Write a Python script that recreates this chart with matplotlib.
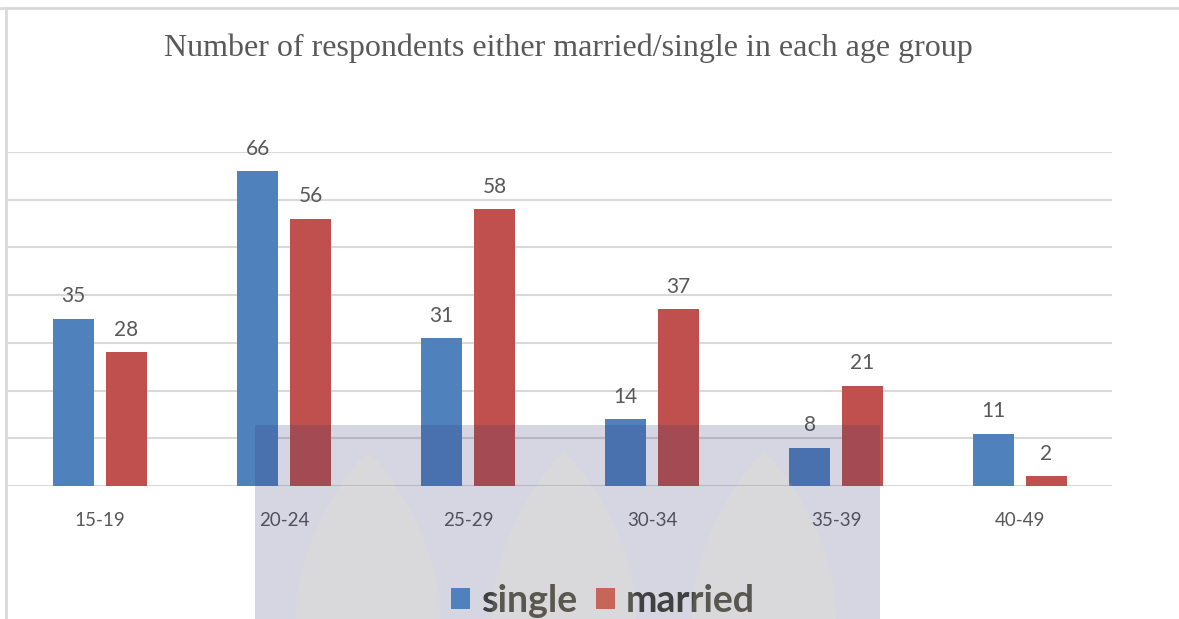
import numpy as np
import matplotlib
matplotlib.use("Agg")
import matplotlib.pyplot as plt
from matplotlib.patches import Rectangle, Polygon

# data
age_groups = ["15-19", "20-24", "25-29", "30-34", "35-39", "40-49"]
single = [35, 66, 31, 14, 8, 11]
married = [28, 56, 58, 37, 21, 2]

blue = "#4F81BD"
red = "#C0504D"
grid_grey = "#D9D9D9"
text_grey = "#595959"

W, H = 1179, 619
fig = plt.figure(figsize=(W / 100, H / 100), dpi=100)
ax = fig.add_axes([8 / W, 1 - 486 / H, 1104 / W, 334 / H])

x = np.arange(len(age_groups))
width = 0.223
offset = 0.144

bars_s = ax.bar(x - offset, single, width, color=blue, label="single", zorder=2)
bars_m = ax.bar(x + offset, married, width, color=red, label="married", zorder=2)

for bars in (bars_s, bars_m):
    for b in bars:
        ax.annotate(f"{b.get_height():.0f}", (b.get_x() + b.get_width() / 2, b.get_height()),
                    xytext=(0, 9), textcoords="offset points", ha="center", va="bottom",
                    fontsize=15, color=text_grey, family="Lato", annotation_clip=False)

ax.set_xlim(-0.5, len(age_groups) - 0.5)
ax.set_ylim(0, 70)
ax.set_yticks(np.arange(0, 71, 10))
ax.yaxis.grid(True, color=grid_grey, linewidth=1.5, zorder=0)
ax.tick_params(axis="y", left=False, labelleft=False)
ax.tick_params(axis="x", length=0, pad=19, labelsize=13.5, labelcolor=text_grey)
ax.set_xticks(x)
ax.set_xticklabels(age_groups, family="Lato")
for s in ax.spines.values():
    s.set_visible(False)
ax.set_axisbelow(True)

fig.text(568 / W, 1 - 48 / H, "Number of respondents either married/single in each age group",
         ha="center", va="center", fontsize=23, color=text_grey, family="Liberation Serif")

leg = fig.legend(handles=[bars_s, bars_m], labels=["single", "married"],
                 loc="center", bbox_to_anchor=(603 / W, 1 - 601 / H), ncol=2, frameon=False,
                 prop={"family": "Lato", "weight": "bold", "size": 27},
                 handlelength=0.5, handleheight=0.5, handletextpad=0.3, columnspacing=0.5)
for t in leg.get_texts():
    t.set_color("#404040")

# chart frame lines (top and left)
fig.add_artist(plt.Line2D([0, 1], [1 - 8 / H] * 2, color=grid_grey, linewidth=2, transform=fig.transFigure))
fig.add_artist(plt.Line2D([6 / W] * 2, [0, 1 - 8 / H], color=grid_grey, linewidth=2, transform=fig.transFigure))

# translucent watermark block with pale leaf shapes
fig.add_artist(Rectangle((255 / W, 0), 625 / W, 194 / H, transform=fig.transFigure,
                         facecolor="#32326E", alpha=0.2, edgecolor="none", zorder=5))
t = np.linspace(0, 1, 30)
for cx in (368, 564, 764):
    half = 72 * np.sin(t * np.pi / 2) ** 0.8
    ys = 453 + t * 166
    pts = np.column_stack([np.r_[cx - half, (cx + half)[::-1]], np.r_[ys, ys[::-1]]])
    pts = pts / [W, H]
    pts[:, 1] = 1 - pts[:, 1]
    fig.add_artist(Polygon(pts, closed=True, transform=fig.transFigure,
                           facecolor="#EDE6B0", alpha=0.15, edgecolor="none", zorder=6))

fig.savefig("out.png", dpi=100)
